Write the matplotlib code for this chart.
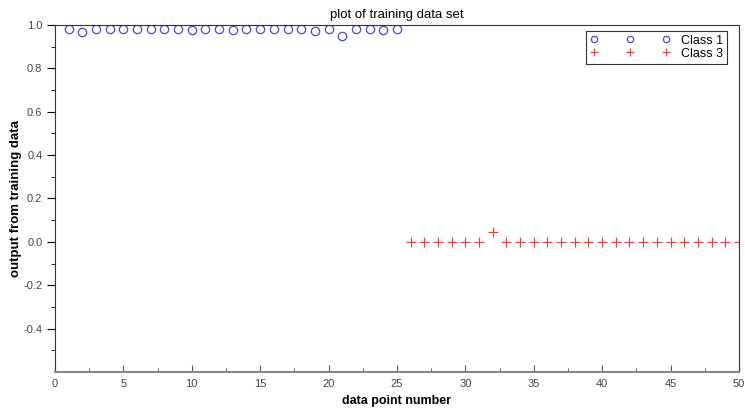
import matplotlib.pyplot as plt
import numpy as np

plt.rcParams["font.family"] = ["Liberation Sans", "DejaVu Sans"]

# class 1: data points 1..25
class1_x = np.arange(1, 26)
class1_y = [0.98, 0.966, 0.98, 0.98, 0.98, 0.98, 0.98, 0.98, 0.98, 0.975,
            0.98, 0.98, 0.975, 0.98, 0.98, 0.98, 0.98, 0.98, 0.972, 0.98,
            0.95, 0.98, 0.98, 0.975, 0.98]

# class 3: data points 26..50
class3_x = np.arange(26, 51)
class3_y = [0.0, 0.0, 0.0, 0.0, 0.0, 0.0, 0.046, 0.0, 0.0, 0.0,
            0.0, 0.0, 0.0, 0.0, 0.0, 0.0, 0.0, 0.0, 0.0, 0.0,
            0.0, 0.0, 0.0, 0.0, 0.0]

fig = plt.figure(figsize=(7.45, 4.08), dpi=100)
ax = fig.add_axes([0.0738, 0.088, 0.918, 0.851])

ax.plot(class1_x, class1_y, "o", mfc="none", mec="#4a4ac8", ms=6, mew=0.9,
        linestyle="none", label="Class 1")
ax.plot(class3_x, class3_y, "+", color="#e04848", ms=7, mew=0.9,
        linestyle="none", label="Class 3")

ax.set_xlim(0, 50)
ax.set_ylim(-0.6, 1.0)
ax.set_xticks(np.arange(0, 51, 5))
ax.set_xticks(np.arange(0, 51, 2.5), minor=True)
ax.set_yticks(np.arange(-0.4, 1.01, 0.2))
ax.set_yticks(np.arange(-0.5, 1.01, 0.1), minor=True)
ax.set_yticklabels([f"{v:.1f}" for v in np.arange(-0.4, 1.01, 0.2)])

ax.tick_params(axis="x", which="both", direction="in", labelsize=8,
               labelcolor="#444444", color="#555555", pad=5)
ax.tick_params(axis="x", which="major", length=5)
ax.tick_params(axis="x", which="minor", length=3)
ax.tick_params(axis="y", which="both", direction="out", labelsize=8,
               labelcolor="#444444", pad=3)
ax.tick_params(axis="y", which="major", length=6)
ax.tick_params(axis="y", which="minor", length=3)

ax.spines["bottom"].set_color("#888888")
ax.spines["bottom"].set_linewidth(1.5)
for s in ["top", "right", "left"]:
    ax.spines[s].set_color("#333333")
    ax.spines[s].set_linewidth(0.8)

ax.set_title("plot of training data set", fontsize=9.5, pad=5)
ax.set_xlabel("data point number", fontsize=9, fontweight="bold", labelpad=4)
ax.set_ylabel("output from training data", fontsize=9.5, fontweight="bold",
              labelpad=1)

leg = ax.legend(loc="upper right", bbox_to_anchor=(0.9865, 0.99), numpoints=3,
                handlelength=6.4, fontsize=9, fancybox=False, framealpha=1,
                edgecolor="#333333", borderpad=0.3, labelspacing=0.1,
                handletextpad=0.9, borderaxespad=0.2, markerscale=0.75)
leg.get_frame().set_linewidth(0.8)

fig.savefig("out.png", dpi=100)
